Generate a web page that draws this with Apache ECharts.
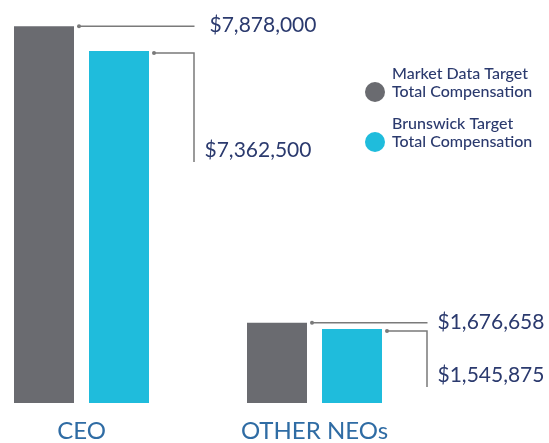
<!DOCTYPE html>
<html>
<head>
<meta charset="utf-8">
<script src="https://cdn.jsdelivr.net/npm/echarts@6/dist/echarts.min.js"></script>
<style>
  html, body { margin: 0; padding: 0; background: #ffffff; }
  #chart { width: 549px; height: 443px; }
</style>
</head>
<body>
<div id="chart"></div>
<script>
// ---- data ----
var categories = ['CEO', 'OTHER NEOs'];
var marketData = [7878000, 1676658];
var brunswick = [7362500, 1545875];
var seriesNames = ['Market Data Target\nTotal Compensation', 'Brunswick Target\nTotal Compensation'];

// ---- style ----
var GRAY = '#6a6b70';
var CYAN = '#1fbcdc';
var NAVY = '#2b3a6e';
var BLUE = '#2f6ca4';
var LEADER = '#7a7a7a';
var FONT = 'Lato, "Open Sans", sans-serif';
var BAR_W = 60, BAR_GAP = 15;

function fmt(v) { return '$' + v.toLocaleString('en-US'); }

var chart = echarts.init(document.getElementById('chart'), null, { renderer: 'canvas' });

var annotationData = categories.map(function (c, i) { return [i, marketData[i], brunswick[i]]; });

function renderLeaders(params, api) {
  var idx = api.value(0);
  var g = api.value(1);
  var b = api.value(2);
  var pg = api.coord([idx, g]);
  var pb = api.coord([idx, b]);
  var c = pg[0];
  var grayRight = c - BAR_GAP / 2;
  var cyanRight = c + BAR_GAP / 2 + BAR_W;
  var lineEnd = c + 113;
  var drop = idx === 0 ? 109 : 56;
  var gy = pg[1];
  var cy = pb[1] + 2;
  var ls = { stroke: LEADER, lineWidth: 1.5, fill: null };
  var tf = '21px ' + FONT;
  return {
    type: 'group',
    children: [
      { type: 'line', shape: { x1: grayRight + 5, y1: gy, x2: lineEnd, y2: gy }, style: ls },
      { type: 'circle', shape: { cx: grayRight + 5, cy: gy, r: 2 }, style: { fill: LEADER } },
      { type: 'text', x: lineEnd + (idx === 0 ? 15 : 10), y: gy - 1,
        style: { text: fmt(g), fill: NAVY, font: tf, verticalAlign: 'middle', align: 'left' } },
      { type: 'polyline', shape: { points: [[cyanRight + 5, cy], [lineEnd - 0.5, cy], [lineEnd - 0.5, cy + drop]] }, style: ls },
      { type: 'circle', shape: { cx: cyanRight + 5, cy: cy, r: 2 }, style: { fill: LEADER } },
      { type: 'text', x: lineEnd + 10, y: cy + drop - 12,
        style: { text: fmt(b), fill: NAVY, font: tf, verticalAlign: 'middle', align: 'left' } }
    ]
  };
}

chart.setOption({
  animation: false,
  backgroundColor: '#ffffff',
  textStyle: { fontFamily: FONT },
  grid: { left: 81.5, right: 234.5, top: 20.5, bottom: 38.5, containLabel: false },
  legend: {
    orient: 'vertical',
    left: 365,
    top: 65,
    padding: 0,
    itemGap: -4,
    itemWidth: 20,
    itemHeight: 20,
    icon: 'circle',
    selectedMode: false,
    data: seriesNames,
    formatter: function (name) { return name + '\n '; },
    textStyle: {
      color: NAVY, fontSize: 16, lineHeight: 18, fontFamily: FONT, fontWeight: 500,
      padding: [0, 0, 0, 2]
    }
  },
  xAxis: {
    type: 'category',
    data: categories,
    boundaryGap: false,
    axisLine: { show: false },
    axisTick: { show: false },
    splitLine: { show: false },
    axisLabel: { color: BLUE, fontSize: 24, margin: 16, fontFamily: FONT }
  },
  yAxis: {
    type: 'value',
    min: 0,
    max: 8000000,
    show: false,
    splitLine: { show: false }
  },
  series: [
    {
      name: seriesNames[0], type: 'bar', data: marketData,
      barWidth: BAR_W, barGap: '25%',
      itemStyle: { color: GRAY }
    },
    {
      name: seriesNames[1], type: 'bar', data: brunswick,
      barWidth: BAR_W, barGap: '25%',
      itemStyle: { color: CYAN }
    },
    {
      type: 'custom', name: 'leaders', data: annotationData,
      encode: { x: 0, y: 1 },
      renderItem: renderLeaders,
      silent: true, z: 5
    }
  ]
});
</script>
</body>
</html>
